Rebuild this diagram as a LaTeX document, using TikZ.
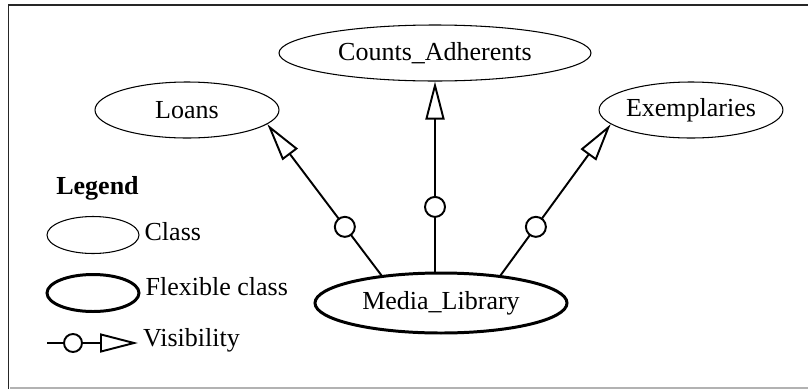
\documentclass[tikz,border=0pt]{standalone}
\usepackage{fontspec}
\setmainfont{Liberation Serif}
\usetikzlibrary{arrows.meta,positioning,shapes.geometric}
\tikzset{%
  classnode/.style = {shape=ellipse, draw, line width=0.6pt,%
                      inner sep=0pt, minimum height=1.12cm},%
  flexnode/.style  = {classnode, line width=1.7pt},%
  visdot/.style    = {circle, draw, fill=white, line width=1.1pt,%
                      inner sep=0pt, minimum size=0.4cm},%
  visarrow/.style  = {line width=1.1pt,%
                      -{Triangle[open,length=0.76cm,width=0.38cm]}},%
  legtext/.style   = {anchor=west, inner sep=1pt}%
}

\begin{document}
\begin{tikzpicture}[every node/.style={font=\fontsize{14.8}{17}\selectfont}]
	\useasboundingbox (0,0) rectangle (16.16,7.78);
	\draw [line width=1.1pt, black!85] (0.17,0) -- (0.17,7.68) -- (16.16,7.68);
	\draw [line width=1.1pt, black!30] (0.2,0.02) -- (16.16,0.02);
	\node [classnode, minimum width=6.24cm] (counts) at (8.70,6.72) {Counts\_Adherents};
	\node [classnode, minimum width=3.68cm] (loans) at (3.74,5.58) {Loans};
	\node [classnode, minimum width=3.64cm] (exemp) at (13.82,5.58) {Exemplaries};
	\node [flexnode, minimum width=5.04cm, minimum height=1.2cm] (media) at (8.82,1.72) {Media\_Library};
	\draw [visarrow] (media.155) -- node [visdot, pos=0.32] {} (loans.350);
	\draw [visarrow] (counts.south |- media.north) -- node [visdot, pos=0.34] {} (counts.south);
	\draw [visarrow] (media.25) -- node [visdot, pos=0.32] {} (exemp.190);
	\node [font=\fontsize{14.8}{17}\selectfont\bfseries] (legend) at (1.95,4.01) {Legend};
	\node [classnode, minimum width=1.84cm, minimum height=0.74cm] (cls) at (1.86,3.08) {};
	\node [legtext, right=0.06cm of cls, yshift=0.06cm] (clstext) {Class};
	\node [flexnode, minimum width=1.84cm, minimum height=0.74cm] (flx) at (1.86,1.92) {};
	\node [legtext, right=0.06cm of flx, yshift=0.12cm] (flxtext) {Flexible class};
	\coordinate (vstart) at (0.94,0.92);
	\coordinate (vend) at (2.76,0.92);
	\node [visdot, minimum size=0.36cm] (vdot) at (1.46,0.92) {};
	\draw [line width=1.1pt] (vstart) -- (vdot);
	\draw [visarrow] (vdot) -- (vend);
	\node [legtext, right=0.06cm of vend, yshift=0.06cm] (vistext) {Visibility};
\end{tikzpicture}
\end{document}
